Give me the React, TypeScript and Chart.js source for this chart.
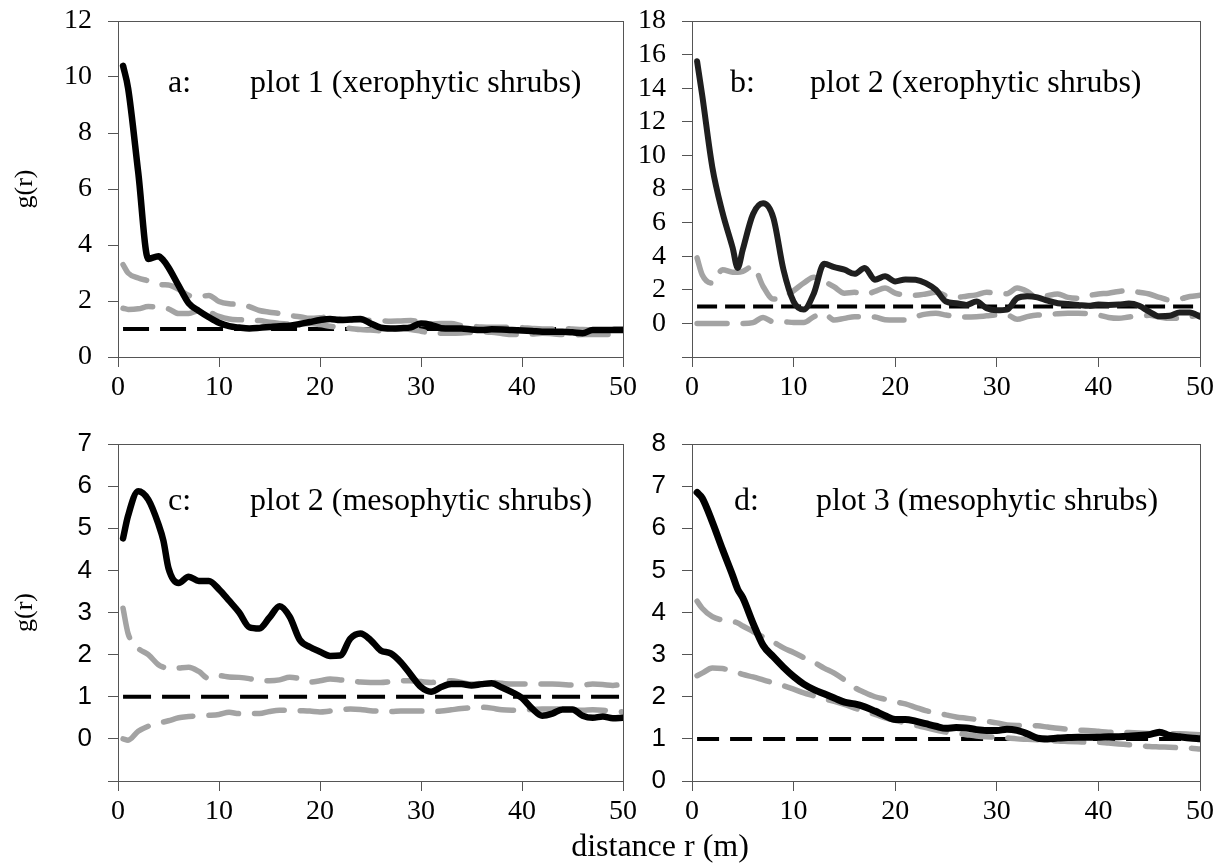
import React, { useEffect, useRef } from 'react';
import { Chart, registerables } from 'chart.js';

Chart.register(...registerables);

// distance r (m) — shared sampling grid for every series
const R = [0.5, 1, 2, 3, 4, 4.5, 5, 6, 7, 8, 9, 10, 11, 12, 13, 14, 15, 16, 17, 18, 19, 20, 21, 22, 23, 24, 25, 26, 27, 28, 29, 30, 31, 32, 33, 34, 35, 36, 37, 38, 39, 40, 41, 42, 43, 44, 45, 46, 47, 48, 49, 50];

// reference (CSR) level g(r) = 1
const CSR_LEVEL = 1;
const X_TICKS = [0, 10, 20, 30, 40, 50];

// a: plot 1 (xerophytic shrubs)
const A_OBS = [10.4, 9.6, 6.6, 3.5, 3.6, 3.45, 3.2, 2.55, 1.92, 1.65, 1.42, 1.22, 1.1, 1.05, 1.02, 1.04, 1.07, 1.1, 1.12, 1.18, 1.25, 1.32, 1.36, 1.32, 1.34, 1.36, 1.2, 1.05, 1.02, 1.03, 1.06, 1.2, 1.15, 1.03, 1.02, 1.02, 0.98, 0.96, 0.99, 0.98, 0.96, 0.95, 0.93, 0.9, 0.9, 0.9, 0.88, 0.85, 0.96, 0.96, 0.96, 0.96];
const A_UP = [3.3, 3.0, 2.82, 2.72, 2.6, 2.58, 2.57, 2.42, 2.2, 2.15, 2.2, 1.98, 1.9, 1.88, 1.8, 1.66, 1.6, 1.55, 1.48, 1.44, 1.38, 1.4, 1.44, 1.36, 1.32, 1.32, 1.31, 1.3, 1.28, 1.29, 1.3, 1.24, 1.18, 1.2, 1.2, 1.12, 1.1, 1.07, 1.06, 1.06, 1.06, 1.05, 1.02, 1.0, 1.0, 1.02, 1.0, 0.98, 0.97, 0.98, 1.0, 1.0];
const A_LO = [1.74, 1.7, 1.72, 1.8, 1.78, 1.74, 1.72, 1.55, 1.55, 1.66, 1.6, 1.45, 1.36, 1.33, 1.32, 1.3, 1.24, 1.2, 1.18, 1.18, 1.2, 1.16, 1.1, 1.05, 1.02, 0.98, 0.96, 0.94, 0.98, 1.02, 0.98, 0.92, 0.86, 0.85, 0.85, 0.86, 0.88, 0.9, 0.88, 0.84, 0.8, 0.8, 0.82, 0.85, 0.83, 0.8, 0.79, 0.8, 0.8, 0.8, 0.8, 0.8];

// b: plot 2 (xerophytic shrubs)
const B_OBS = [15.6, 13.6, 9.3, 6.6, 4.5, 3.3, 4.4, 6.5, 7.15, 6.3, 3.2, 1.3, 0.82, 1.8, 3.55, 3.35, 3.2, 2.95, 3.3, 2.6, 2.8, 2.5, 2.62, 2.6, 2.4, 2.0, 1.3, 1.2, 1.1, 1.3, 0.9, 0.78, 0.82, 1.5, 1.62, 1.55, 1.35, 1.2, 1.15, 1.1, 1.05, 1.12, 1.1, 1.12, 1.18, 1.05, 0.7, 0.42, 0.45, 0.65, 0.65, 0.4];
const B_UP = [3.9, 2.9, 2.4, 3.2, 3.05, 3.05, 3.1, 3.4, 2.2, 1.45, 1.55, 1.95, 2.4, 2.75, 2.5, 2.17, 1.8, 1.85, 1.72, 1.9, 2.1, 1.8, 1.7, 1.68, 1.75, 1.85, 1.65, 1.55, 1.62, 1.7, 1.85, 1.8, 1.77, 2.1, 1.9, 1.5, 1.65, 1.75, 1.55, 1.5, 1.65, 1.75, 1.8, 1.9, 1.95, 1.85, 1.75, 1.55, 1.4, 1.45, 1.6, 1.67];
const B_LO = [0, 0, 0, 0, 0, 0, 0, 0.05, 0.35, 0.1, 0.1, 0.05, 0.05, 0.4, 0.58, 0.2, 0.3, 0.4, 0.4, 0.38, 0.22, 0.2, 0.2, 0.4, 0.55, 0.6, 0.5, 0.4, 0.38, 0.4, 0.45, 0.5, 0.5, 0.25, 0.4, 0.5, 0.52, 0.58, 0.6, 0.6, 0.58, 0.5, 0.35, 0.3, 0.38, 0.42, 0.48, 0.38, 0.3, 0.3, 0.4, 0.5];

// c: plot 2 (mesophytic shrubs)
const C_OBS = [4.76, 5.3, 5.88, 5.68, 5.1, 4.7, 4.05, 3.7, 3.85, 3.75, 3.75, 3.55, 3.28, 3.0, 2.65, 2.62, 2.88, 3.15, 2.9, 2.35, 2.18, 2.07, 1.97, 1.98, 2.38, 2.5, 2.35, 2.1, 2.03, 1.82, 1.52, 1.23, 1.12, 1.23, 1.3, 1.3, 1.27, 1.3, 1.32, 1.22, 1.11, 0.97, 0.72, 0.55, 0.6, 0.7, 0.7, 0.55, 0.5, 0.53, 0.49, 0.5];
const C_UP = [3.1, 2.5, 2.15, 2.0, 1.76, 1.7, 1.66, 1.68, 1.7, 1.6, 1.43, 1.5, 1.47, 1.46, 1.43, 1.38, 1.38, 1.4, 1.46, 1.43, 1.35, 1.38, 1.42, 1.4, 1.38, 1.35, 1.34, 1.34, 1.36, 1.38, 1.38, 1.36, 1.34, 1.36, 1.38, 1.34, 1.3, 1.32, 1.34, 1.32, 1.3, 1.3, 1.3, 1.3, 1.3, 1.29, 1.28, 1.28, 1.3, 1.29, 1.27, 1.3];
const C_LO = [0.0, -0.03, 0.18, 0.3, 0.38, 0.4, 0.43, 0.5, 0.53, 0.55, 0.56, 0.58, 0.63, 0.6, 0.6, 0.6, 0.65, 0.68, 0.68, 0.67, 0.66, 0.64, 0.66, 0.68, 0.71, 0.7, 0.67, 0.66, 0.65, 0.66, 0.66, 0.66, 0.65, 0.66, 0.69, 0.72, 0.74, 0.75, 0.73, 0.69, 0.68, 0.68, 0.7, 0.71, 0.71, 0.71, 0.69, 0.68, 0.69, 0.68, 0.66, 0.64];

// d: plot 3 (mesophytic shrubs)
const D_OBS = [6.85, 6.72, 6.15, 5.5, 4.88, 4.55, 4.35, 3.75, 3.22, 2.95, 2.7, 2.48, 2.3, 2.17, 2.07, 1.97, 1.87, 1.83, 1.76, 1.66, 1.55, 1.46, 1.46, 1.42, 1.36, 1.3, 1.25, 1.27, 1.26, 1.22, 1.2, 1.2, 1.23, 1.2, 1.12, 1.02, 1.0, 1.02, 1.03, 1.04, 1.04, 1.04, 1.05, 1.05, 1.06, 1.08, 1.1, 1.16, 1.08, 1.05, 1.02, 1.0];
const D_UP = [4.27, 4.1, 3.9, 3.82, 3.79, 3.75, 3.68, 3.55, 3.42, 3.3, 3.16, 3.05, 2.93, 2.82, 2.68, 2.56, 2.4, 2.22, 2.1, 2.0, 1.94, 1.88, 1.83, 1.75, 1.67, 1.62, 1.57, 1.52, 1.49, 1.46, 1.42, 1.38, 1.33, 1.32, 1.32, 1.31, 1.28, 1.25, 1.23, 1.21, 1.2, 1.18, 1.16, 1.16, 1.15, 1.14, 1.13, 1.12, 1.12, 1.12, 1.11, 1.1];
const D_LO = [2.5, 2.56, 2.68, 2.67, 2.6, 2.57, 2.53, 2.47, 2.4, 2.33, 2.26, 2.18, 2.09, 2.02, 1.95, 1.89, 1.82, 1.73, 1.65, 1.58, 1.5, 1.44, 1.38, 1.32, 1.27, 1.21, 1.16, 1.13, 1.1, 1.07, 1.05, 1.04, 1.02, 1.0, 0.99, 0.98, 0.97, 0.95, 0.94, 0.93, 0.92, 0.92, 0.9, 0.88, 0.86, 0.84, 0.82, 0.81, 0.8, 0.79, 0.78, 0.76];

const LABELS = {
  a: ['a:', 'plot 1 (xerophytic shrubs)'],
  b: ['b:', 'plot 2 (xerophytic shrubs)'],
  c: ['c:', 'plot 2 (mesophytic shrubs)'],
  d: ['d:', 'plot 3 (mesophytic shrubs)'],
};
const Y_TITLE = 'g(r)';
const X_TITLE = 'distance r (m)';

const SERIF = '"Liberation Serif", "Times New Roman", serif';
const SANS = '"Liberation Sans", Arial, sans-serif';
const GRAY = '#a3a3a3';
const AXIS = '#555555';

const PANELS = [
  { id: 'a', obs: A_OBS, up: A_UP, lo: A_LO, yMin: 0, yMax: 12, yStep: 2, yFont: SERIF, ySize: 28, yTitle: true,
    left: 0, top: 0, width: 640, height: 420, area: { l: 118, r: 623, t: 21, b: 357 },
    obsColor: '#000000', obsWidth: 6.5, refDash: [26, 11],
    tag: { x: 168, y: 92 }, text: { x: 250, y: 92 } },
  { id: 'b', obs: B_OBS, up: B_UP, lo: B_LO, yMin: -2, yMax: 18, yStep: 2, yFont: SERIF, ySize: 28, yTitle: false,
    left: 640, top: 0, width: 575, height: 420, area: { l: 52, r: 560, t: 21, b: 357 },
    obsColor: '#1f1f1f', obsWidth: 6, refDash: [20, 8],
    tag: { x: 730, y: 92 }, text: { x: 810, y: 92 } },
  { id: 'c', obs: C_OBS, up: C_UP, lo: C_LO, yMin: -1, yMax: 7, yStep: 1, yFont: SANS, ySize: 26, yTitle: true,
    left: 0, top: 420, width: 640, height: 443, area: { l: 118, r: 623, t: 24, b: 361 },
    obsColor: '#000000', obsWidth: 6.5, refDash: [28, 11],
    tag: { x: 168, y: 510 }, text: { x: 250, y: 510 } },
  { id: 'd', obs: D_OBS, up: D_UP, lo: D_LO, yMin: 0, yMax: 8, yStep: 1, yFont: SANS, ySize: 26, yTitle: false,
    left: 640, top: 420, width: 575, height: 443, area: { l: 52, r: 560, t: 24, b: 361 },
    obsColor: '#000000', obsWidth: 7, refDash: [22, 11],
    tag: { x: 734, y: 510 }, text: { x: 816, y: 510 } },
];

const toPoints = (ys: number[]) => R.map((x, i) => ({ x, y: ys[i] }));

const framePlugin = {
  id: 'frame',
  beforeDatasetsDraw(chart: any) {
    const { ctx, chartArea } = chart;
    const { left, top, right, bottom } = chartArea;
    ctx.save();
    ctx.strokeStyle = AXIS;
    ctx.lineWidth = 1;
    ctx.strokeRect(Math.round(left) + 0.5, Math.round(top) + 0.5, Math.round(right - left), Math.round(bottom - top));
    ctx.restore();
  },
};

function Panel({ spec }: { spec: any }) {
  const ref = useRef<HTMLCanvasElement>(null);
  useEffect(() => {
    const canvas = ref.current as HTMLCanvasElement;
    const { area, width, height } = spec;
    const refLine = [
      { x: R[0], y: CSR_LEVEL },
      { x: R[R.length - 1], y: CSR_LEVEL },
    ];
    const envStyle = {
      borderColor: GRAY,
      borderWidth: 5.5,
      borderDash: [30, 16],
      borderCapStyle: 'round',
      borderJoinStyle: 'round',
      pointRadius: 0,
      cubicInterpolationMode: 'monotone',
      fill: false,
      order: 2,
    };
    const chart = new Chart(canvas, {
      type: 'line',
      data: {
        datasets: [
          {
            label: 'observed',
            data: toPoints(spec.obs),
            borderColor: spec.obsColor,
            borderWidth: spec.obsWidth,
            borderCapStyle: 'round',
            borderJoinStyle: 'round',
            pointRadius: 0,
            cubicInterpolationMode: 'monotone',
            fill: false,
            order: 1,
          },
          { label: 'upper envelope', data: toPoints(spec.up), ...envStyle },
          { label: 'lower envelope', data: toPoints(spec.lo), ...envStyle },
          {
            label: 'CSR',
            data: refLine,
            borderColor: '#000000',
            borderWidth: 4,
            borderDash: spec.refDash,
            pointRadius: 0,
            fill: false,
            order: 3,
          },
        ] as any,
      },
      options: {
        responsive: false,
        animation: false,
        devicePixelRatio: 1,
        layout: { padding: { left: 0, top: area.t, right: width - area.r, bottom: 0 } },
        plugins: { legend: { display: false }, tooltip: { enabled: false } },
        scales: {
          x: {
            type: 'linear',
            min: X_TICKS[0],
            max: X_TICKS[X_TICKS.length - 1],
            afterBuildTicks: (s: any) => {
              s.ticks = X_TICKS.map((v) => ({ value: v }));
            },
            ticks: {
              color: '#000',
              font: { family: SERIF, size: 28 },
              padding: 4,
              maxRotation: 0,
              autoSkip: false,
            },
            grid: { drawOnChartArea: false, drawTicks: true, tickLength: 10, color: AXIS },
            border: { display: true, color: AXIS },
            afterFit: (s: any) => {
              s.height = height - area.b;
              s.paddingLeft = 0;
              s.paddingRight = 0;
            },
          },
          y: {
            type: 'linear',
            min: spec.yMin,
            max: spec.yMax,
            ticks: {
              stepSize: spec.yStep,
              color: '#000',
              font: { family: spec.yFont, size: spec.ySize },
              padding: 16,
              autoSkip: false,
              callback: (v: any) => (Number(v) < 0 ? '' : String(v)),
            },
            grid: { drawOnChartArea: false, drawTicks: true, tickLength: 10, color: AXIS },
            border: { display: true, color: AXIS },
            title: {
              display: spec.yTitle,
              text: Y_TITLE,
              color: '#000',
              font: { family: SERIF, size: 26 },
              padding: { top: 10, bottom: 0 },
            },
            afterFit: (s: any) => {
              s.width = area.l;
              s.paddingTop = 0;
              s.paddingBottom = 0;
            },
          },
        },
      } as any,
      plugins: [framePlugin],
    });
    return () => chart.destroy();
  }, [spec]);
  return (
    <canvas
      ref={ref}
      width={spec.width}
      height={spec.height}
      style={{ position: 'absolute', left: spec.left, top: spec.top, width: spec.width, height: spec.height }}
    />
  );
}

const textStyle = (x: number, baseline: number, size: number): React.CSSProperties => ({
  position: 'absolute',
  left: x,
  top: baseline - Math.round(size * 0.84),
  fontFamily: SERIF,
  fontSize: size,
  lineHeight: 1,
  whiteSpace: 'nowrap',
  color: '#000',
});

export default function App() {
  return (
    <div
      style={{
        position: 'absolute',
        left: 0,
        top: 0,
        width: 1215,
        height: 863,
        overflow: 'hidden',
        background: '#ffffff',
      }}
    >
      {PANELS.map((p) => (
        <Panel key={p.id} spec={p} />
      ))}
      {PANELS.map((p) => (
        <React.Fragment key={'t' + p.id}>
          <span style={textStyle(p.tag.x, p.tag.y, 32)}>{(LABELS as any)[p.id][0]}</span>
          <span style={textStyle(p.text.x, p.text.y, 32)}>{(LABELS as any)[p.id][1]}</span>
        </React.Fragment>
      ))}
      <span style={{ ...textStyle(0, 856, 32), left: 0, width: 1320, textAlign: 'center' }}>{X_TITLE}</span>
    </div>
  );
}
